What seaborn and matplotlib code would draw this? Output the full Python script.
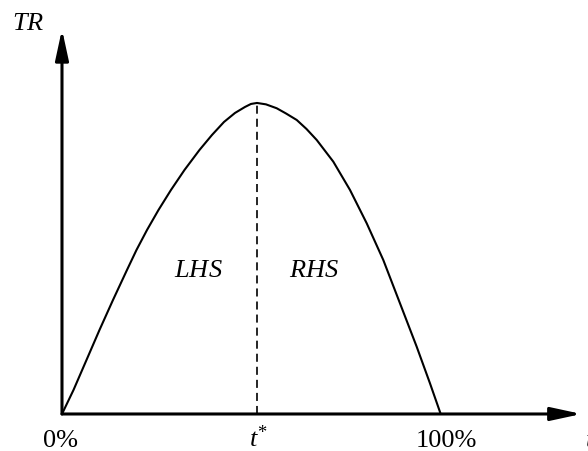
import matplotlib
matplotlib.use("Agg")
import matplotlib.pyplot as plt
import seaborn as sns
import pandas as pd

# Laffer curve (tax rate in %, revenue scaled so peak = 100)
tax_rate = [0, 3.04, 6.47, 9.90, 13.47, 17.16, 19.67, 22.45, 25.48, 28.78, 32.35,
            36.31, 39.61, 42.78, 45.68, 48.32, 49.91, 51.49,
            53.86, 56.69, 59.15, 61.98, 64.56, 67.26, 71.64, 76.05, 80.46,
            84.84, 89.25, 93.66, 97.17, 100]
revenue = [0, 7.72, 17.36, 27.01, 36.66, 46.30, 52.73, 59.16, 65.59, 72.03, 78.46,
           84.89, 89.71, 93.89, 96.78, 98.71, 99.68, 100,
           99.55, 98.30, 96.62, 94.53, 91.64, 88.10, 81.13, 72.03, 61.32,
           49.52, 35.59, 21.64, 9.87, 0]
t_star = 51.5
peak = 100
x_labels = ["0%", "$t^{*}$", "100%"]
x_label_pos = [-0.4, 51.8, 101.4]

sns.set_theme(style="white")
plt.rcParams["font.family"] = ["Liberation Serif", "DejaVu Serif"]
plt.rcParams["mathtext.fontset"] = "custom"
plt.rcParams["mathtext.rm"] = "Liberation Serif"
plt.rcParams["mathtext.it"] = "Liberation Serif:italic"
plt.rcParams["lines.scale_dashes"] = False
plt.rcParams["text.color"] = "black"

fig = plt.figure(figsize=(5.88, 4.51), dpi=100)
ax = fig.add_axes([0, 0, 1, 1])
ax.set_xlim(-16.37, 138.9)
ax.set_ylim(-11.9, 133.1)
ax.axis("off")

df = pd.DataFrame({"t": tax_rate, "TR": revenue})
sns.lineplot(data=df, x="t", y="TR", color="black", linewidth=1.5, ax=ax,
             sort=False, solid_joinstyle="round")

# t* divider
ax.plot([t_star, t_star], [0, peak], color="black", linewidth=1.2, dashes=(5.8, 3.6))

# axes with arrows
arrow = dict(arrowstyle="-|>,head_length=1.85,head_width=0.4", lw=2.2, color="black",
             mutation_scale=10, shrinkA=0, shrinkB=0)
ax.annotate("", xy=(137.2, 0), xytext=(0, 0), arrowprops=arrow)
ax.annotate("", xy=(0, 123.7), xytext=(0, 0), arrowprops=arrow)

fs = 19
ax.text(-9.0, 123.5, "$TR$", fontsize=fs, ha="center", va="baseline")
for lab, xp in zip(x_labels, x_label_pos):
    ax.text(xp, -10.6, lab, fontsize=fs, ha="center", va="baseline")
ax.text(138.1, -10.6, "$t$", fontsize=fs, ha="left", va="baseline")
ax.text(36.1, 46.1, "$LHS$", fontsize=fs, ha="center", va="center")
ax.text(66.5, 46.1, "$RHS$", fontsize=fs, ha="center", va="center")

fig.savefig("out.png", dpi=100)
